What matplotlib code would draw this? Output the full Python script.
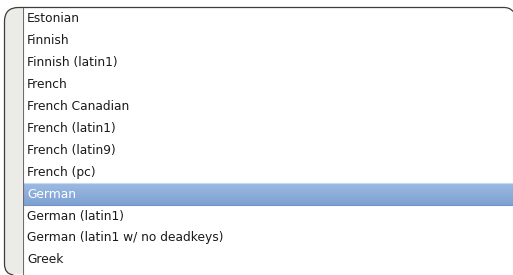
import matplotlib
matplotlib.use('Agg')
import numpy as np
from matplotlib import pyplot as plt
from matplotlib.path import Path
from matplotlib.patches import PathPatch

# list items as shown in the box
items = ['Estonian', 'Finnish', 'Finnish (latin1)', 'French', 'French Canadian',
         'French (latin1)', 'French (latin9)', 'French (pc)', 'German',
         'German (latin1)', 'German (latin1 w/ no deadkeys)', 'Greek']
selected = 'German'

W, H = 513, 275
row_h = 21.9
top = 7.5
left, gutter = 4.5, 22.5
radius = 14

fig = plt.figure(figsize=(W / 100, H / 100), dpi=100)
ax = fig.add_axes([0, 0, 1, 1])
ax.set_xlim(0, W)
ax.set_ylim(H, 0)
ax.axis('off')

bottom = H - 1
# gutter fill, clipped to rounded corners on the left
gut = Path([(gutter, bottom), (left + 8, bottom), (left, bottom), (left, bottom - 10),
            (left, top + radius), (left, top), (left + radius, top), (gutter, top),
            (gutter, bottom)],
           [Path.MOVETO, Path.LINETO, Path.CURVE3, Path.CURVE3, Path.LINETO,
            Path.CURVE3, Path.CURVE3, Path.LINETO, Path.CLOSEPOLY])
ax.add_patch(PathPatch(gut, facecolor='#ebebe7', edgecolor='none'))

# rows, selected one with a gradient
for i, name in enumerate(items):
    y0 = top + i * row_h
    if name == selected:
        grad = np.linspace(0, 1, 32).reshape(-1, 1)
        cmap = matplotlib.colors.LinearSegmentedColormap.from_list('sel', ['#9cbae2', '#7ea1d3'])
        ax.imshow(grad, cmap=cmap, extent=(gutter, W, y0 + row_h, y0), aspect='auto', zorder=1)
        ax.plot([gutter, W], [y0 + 0.5, y0 + 0.5], color='#c9d9ee', lw=0.8, zorder=2)
        ax.plot([gutter, W], [y0 + row_h, y0 + row_h], color='#6f93c6', lw=0.8, zorder=2)
    ax.text(gutter + 4.5, y0 + row_h / 2 + 0.5, name, fontsize=8.8,
            family='DejaVu Sans', va='center', ha='left',
            color='white' if name == selected else '#1a1a1a', zorder=3)

# outline
outline = Path([(left + 9, bottom + 1), (left, bottom), (left, bottom - 10),
                (left, top + radius), (left, top), (left + radius, top),
                (W - 9, top), (W - 3, top), (W, top + 4)],
               [Path.MOVETO, Path.CURVE3, Path.CURVE3, Path.LINETO, Path.CURVE3,
                Path.CURVE3, Path.LINETO, Path.CURVE3, Path.CURVE3])
ax.add_patch(PathPatch(outline, facecolor='none', edgecolor='#3c3c3c', lw=0.9, zorder=4))
ax.plot([gutter, gutter], [top, H], color='#6e6e6e', lw=0.8, zorder=4)

fig.savefig('out.png', dpi=100)
